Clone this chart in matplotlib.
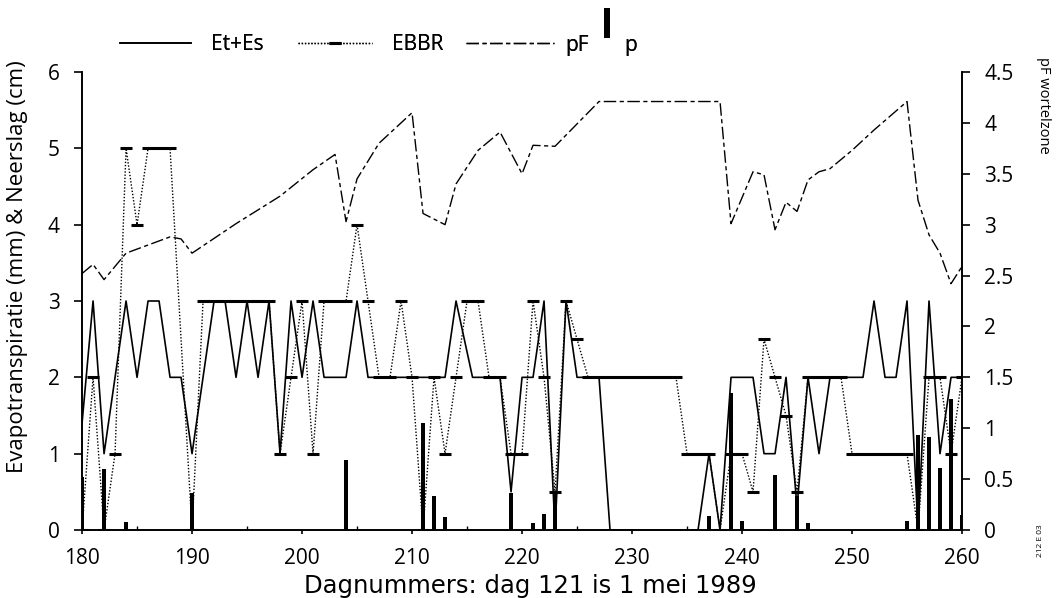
import matplotlib
matplotlib.use("Agg")
import matplotlib.pyplot as plt
from matplotlib.lines import Line2D
from matplotlib.path import Path
from matplotlib.ticker import MultipleLocator

plt.rcParams['font.family'] = ['Open Sans', 'DejaVu Sans']

# ---- data ----
et_days = [180, 181, 182, 183, 184, 185, 186, 187, 188, 189, 190, 191, 192, 193, 194, 195,
           196, 197, 198, 199, 200, 201, 202, 203, 204, 205, 206, 207, 208, 209, 210, 211,
           212, 213, 214, 215.5, 216, 217, 218, 219, 220, 221, 222, 223, 224, 225, 226, 227,
           228, 229, 230, 231, 232, 233, 234, 235, 236, 237, 238, 239, 240, 241, 242, 243,
           244, 245, 246, 247, 248, 249, 250, 251, 252, 253, 254, 255, 256, 257, 258, 259, 260]
et_vals = [1.4, 3, 1, 2, 3, 2, 3, 3, 2, 2, 1, 2, 3, 3, 2, 3,
           2, 3, 1, 3, 2, 3, 2, 2, 2, 3, 2, 2, 2, 2, 2, 2,
           2, 2, 3, 2, 2, 2, 2, 0.5, 2, 2, 3, 0, 3, 2, 2, 2,
           0, 0, 0, 0, 0, 0, 0, 0, 0, 1, 0, 2, 2, 2, 1, 1,
           2, 0.3, 2, 1, 2, 2, 2, 2, 3, 2, 2, 3, 0, 3, 1, 2, 2]

ebbr_days = [180, 181, 182, 183, 184, 185, 186, 187, 188, 190, 191, 192, 193, 194, 195, 196,
             197, 198, 199, 200, 201, 202, 203, 204, 205, 206, 207, 208, 209, 210, 211, 212,
             213, 214, 215, 216, 217, 218, 219, 220, 221, 222, 223, 224, 225, 226, 227, 228,
             229, 230, 231, 232, 233, 234, 235, 236, 237, 238, 239, 240, 241, 242, 243, 244,
             245, 246, 247, 248, 249, 250, 251, 252, 253, 254, 255, 256, 257, 258, 259, 260]
ebbr_vals = [0, 2, 0, 1, 5, 4, 5, 5, 5, 0, 3, 3, 3, 3, 3, 3,
             3, 1, 2, 3, 1, 3, 3, 3, 4, 3, 2, 2, 3, 2, 0, 2,
             1, 2, 3, 3, 2, 2, 1, 1, 3, 2, 0.5, 3, 2.5, 2, 2, 2,
             2, 2, 2, 2, 2, 2, 1, 1, 1, 0, 1, 1, 0.5, 2.5, 2, 1.5,
             0.5, 2, 2, 2, 2, 1, 1, 1, 1, 1, 1, 0, 2, 2, 1, 2]

pf_days = [180, 181, 182, 184, 188, 189, 190, 194, 198, 201, 203, 204, 205, 207, 210, 211,
           213, 214, 216, 218, 220, 221, 223, 227, 238, 239, 241, 242, 243, 244, 245, 246,
           247, 248, 250, 252, 255, 256, 257, 258, 259, 260]
pf_vals = [2.52, 2.61, 2.46, 2.72, 2.88, 2.86, 2.72, 3.01, 3.28, 3.54, 3.69, 3.03, 3.45, 3.80, 4.10, 3.11,
           3.00, 3.40, 3.73, 3.91, 3.50, 3.78, 3.77, 4.21, 4.21, 3.01, 3.52, 3.49, 2.95, 3.22, 3.13, 3.44,
           3.52, 3.55, 3.73, 3.93, 4.21, 3.24, 2.90, 2.72, 2.42, 2.59]

p_days = [180, 182, 184, 190, 204, 211, 212, 213, 219, 221, 222, 223, 237, 239, 240,
          243, 245, 246, 255, 256, 257, 258, 259, 260]
p_vals = [0.7, 0.8, 0.1, 0.48, 0.92, 1.40, 0.44, 0.17, 0.48, 0.09, 0.21, 0.5, 0.18, 1.8, 0.12,
          0.72, 0.45, 0.09, 0.12, 1.24, 1.22, 0.81, 1.72, 0.2]

left_ticks = [0, 1, 2, 3, 4, 5, 6]
right_ticks = [0, 0.5, 1, 1.5, 2, 2.5, 3, 3.5, 4, 4.5]
right_labels = ['0', '0.5', '1', '1.5', '2', '2.5', '3', '3.5', '4', '4.5']
x_ticks = [180, 190, 200, 210, 220, 230, 240, 250, 260]
series_labels = ['Et+Es', 'EBBR', 'pF', 'p']

# ---- styles ----
DOT = (0, (1, 1.3))
DASHDOT = (0, (9, 2.5, 3, 2.5))

# ---- figure ----
fig = plt.figure(figsize=(10.56, 5.98), dpi=100)
ax = fig.add_axes([0.0777, 0.1137, 0.8333, 0.7659])
ax2 = ax.twinx()

ax.bar(p_days, p_vals, width=0.38, color='black', zorder=2)
ax.plot(et_days, et_vals, color='black', lw=1.2, zorder=3)
ax.plot(ebbr_days, ebbr_vals, color='black', lw=1.0, linestyle=DOT,
        marker='_', markersize=8, markeredgewidth=2.2, zorder=3)
ax2.plot(pf_days, pf_vals, color='black', lw=1.0, linestyle=DASHDOT, zorder=3)

ax.set_xlim(180, 260)
ax.set_ylim(0, 6)
ax2.set_ylim(0, 4.5)
ax.set_xticks(x_ticks)
ax.xaxis.set_minor_locator(MultipleLocator(5))
ax.set_yticks(left_ticks)
ax2.set_yticks(right_ticks)
ax2.set_yticklabels(right_labels)

for a in (ax, ax2):
    a.spines['top'].set_visible(False)
    for s in a.spines.values():
        s.set_linewidth(1.2)
ax.tick_params(axis='y', direction='out', length=6, width=1.2, labelsize=15, pad=10)
ax.tick_params(axis='x', which='major', direction='out', length=3, width=1.2, labelsize=15, pad=10)
ax.tick_params(axis='x', which='minor', direction='in', length=3, width=1)
ax2.tick_params(axis='y', direction='out', length=6, width=1.2, labelsize=15, pad=10)

fig.text(18 / 1056, 1 - 267 / 598, 'Evapotranspiratie (mm) & Neerslag (cm)', rotation=90,
         ha='center', va='center', fontsize=16)
fig.text(530 / 1056, 1 - 593 / 598, 'Dagnummers: dag 121 is 1 mei 1989', ha='center',
         va='baseline', fontsize=17.5, family=['DejaVu Sans'])

fig.text(1043 / 1056, 1 - 105 / 598, 'pF wortelzone', rotation=270, ha='center', va='center',
         fontsize=10.5)
fig.text(1040 / 1056, 1 - 541 / 598, '212 E 03', rotation=90, ha='center', va='center',
         fontsize=6)

# ---- legend: four single-entry legends spread along the top ----
bar_marker = Path([(0, 0.14), (0, 1)])
handles = [
    Line2D([], [], color='black', lw=1.2),
    Line2D([], [], color='black', lw=1.0, linestyle=DOT, marker='_',
           markersize=8, markeredgewidth=2.2),
    Line2D([], [], color='black', lw=1.0, linestyle=DASHDOT),
    Line2D([], [], color='black', linestyle='none', marker=bar_marker, markersize=50,
           markeredgewidth=4.3),
]
leg_x = [120, 298, 466, 603]
leg_len = [3.4, 3.55, 4.2, 0.4]
leg_pad = [0.95, 0.95, 0.55, 0.6]
for h, lab, x0, hl, hp in zip(handles, series_labels, leg_x, leg_len, leg_pad):
    lg = fig.legend([h], [lab], loc='center left', bbox_to_anchor=(x0 / 1056, 1 - 45 / 598),
                    frameon=False, fontsize=15, handlelength=hl, handletextpad=hp,
                    numpoints=1, borderpad=0, borderaxespad=0)
    fig.add_artist(lg)

fig.savefig('out.png', dpi=100)
